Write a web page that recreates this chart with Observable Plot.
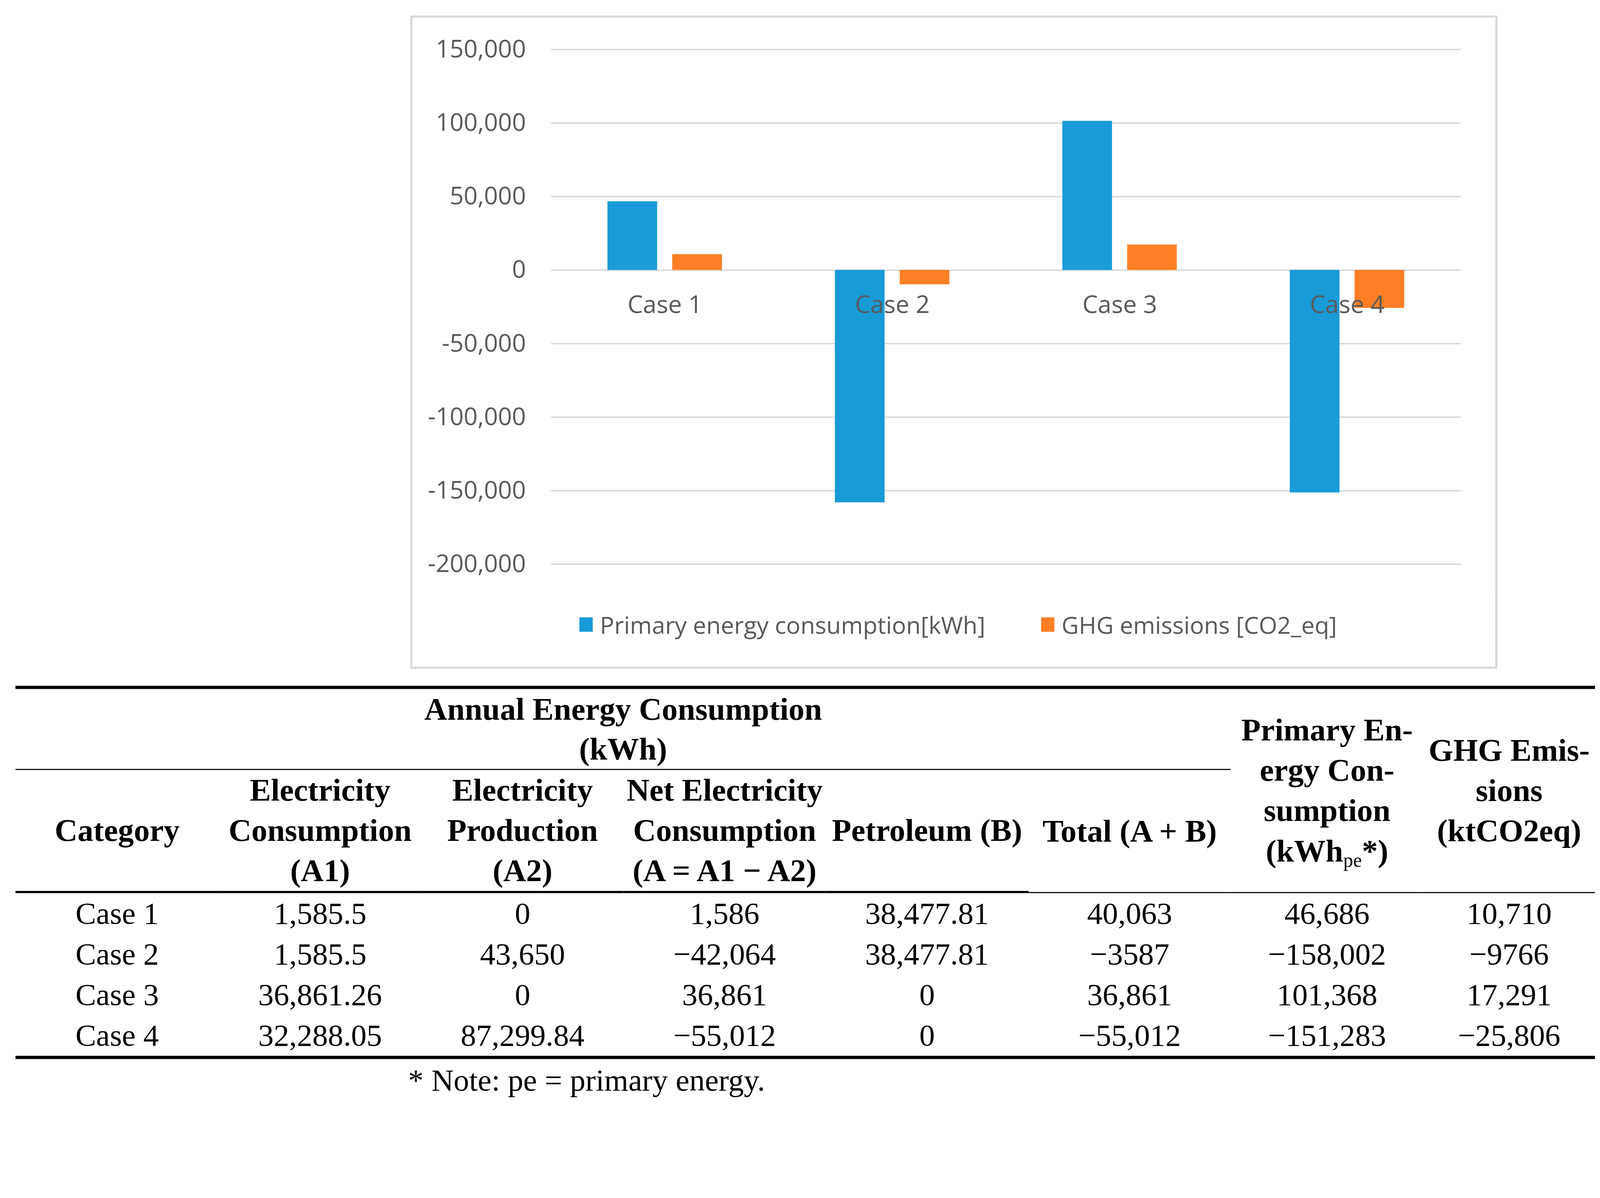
<!DOCTYPE html>
<html>
<head>
<meta charset="utf-8">
<script src="https://cdn.jsdelivr.net/npm/d3@7"></script>
<script src="https://cdn.jsdelivr.net/npm/@observablehq/plot@0.6"></script>
<style>
  html, body { margin: 0; padding: 0; background: #fff; overflow: hidden; }
  #page { width: 4446px; height: 3066px; position: relative; overflow: hidden; transform-origin: 0 0; background: #fff; }
  #chartBox { position: absolute; left: 1140px; top: 43px; width: 3021px; height: 1815px;
    box-sizing: border-box; border: 6px solid #d9d9d9; background: #fff; }
  #chartBox svg { display: block; }
  #legend { position: absolute; left: 24px; right: 0; top: 1646px; height: 80px;
    display: flex; align-items: center; justify-content: center;
    font-family: "Open Sans", sans-serif; font-size: 66px; color: #595959; white-space: nowrap; }
  .item { display: flex; align-items: center; }
  .item + .item { margin-left: 155px; }
  .sw { width: 37px; height: 40px; margin-right: 20px; }
  #tbl { position: absolute; left: 43px; top: 1905px; width: 4389px; border-collapse: separate;
    border-spacing: 0; table-layout: fixed; font-family: "Liberation Serif", "Times New Roman", serif;
    font-size: 86px; line-height: 113px; color: #000; border-top: 9px solid #000; border-bottom: 9px solid #000; }
  #tbl td, #tbl th { padding: 0; text-align: center; white-space: nowrap; vertical-align: middle; }
  #tbl th { font-weight: bold; font-size: 88px; line-height: 112px; }
  #tbl th sub { font-weight: normal; font-size: 55px; vertical-align: -14px; line-height: 0; }
  #note { position: absolute; left: 1134px; top: 2950px; font-family: "Liberation Serif", serif;
    font-size: 86px; line-height: 100px; color: #000; white-space: nowrap; }
</style>
</head>
<body>
<div id="page">
<div id="chartBox"><div id="legend"></div></div>
<table id="tbl"></table>
<div id="note">* Note: pe = primary energy.</div>
</div>
<script>
// ---- chart data ----
const cases = ["Case 1", "Case 2", "Case 3", "Case 4"];
const seriesNames = ["Primary energy consumption[kWh]", "GHG emissions [CO2_eq]"];
const primaryEnergy = [46686, -158002, 101368, -151283];
const ghgEmissions = [10710, -9766, 17291, -25806];
const yTicks = [150000, 100000, 50000, 0, -50000, -100000, -150000, -200000];
const seriesColors = ["#189BD7", "#FF7F27"];

// ---- table data ----
const elecConsumption = ["1,585.5", "1,585.5", "36,861.26", "32,288.05"];
const elecProduction = ["0", "43,650", "0", "87,299.84"];
const netElectricity = ["1,586", "\u221242,064", "36,861", "\u221255,012"];
const petroleum = ["38,477.81", "38,477.81", "0", "0"];
const totalAB = ["40,063", "\u22123587", "36,861", "\u221255,012"];
const primaryCol = ["46,686", "\u2212158,002", "101,368", "\u2212151,283"];
const ghgCol = ["10,710", "\u22129766", "17,291", "\u221225,806"];
const colWidths = [565, 563, 562, 561, 564, 562, 535, 477];

// fit the 4446x3066 page into the actual viewport
const page = document.getElementById("page");
const fit = Math.min(window.innerWidth / 4446, window.innerHeight / 3066);
if (fit > 0 && Math.abs(fit - 1) > 0.005) page.style.transform = `scale(${fit})`;

const data = cases.flatMap((c, i) => [
  {case: c, series: seriesNames[0], value: primaryEnergy[i]},
  {case: c, series: seriesNames[1], value: ghgEmissions[i]}
]);

const fmt = d => d.toLocaleString("en-US");

const chart = Plot.plot({
  width: 3009,
  height: 1600,
  marginLeft: 384,
  marginRight: 96,
  marginTop: 88,
  marginBottom: 82,
  style: {fontFamily: "'Open Sans', sans-serif", fontSize: "68px", color: "#595959", background: "#fff", overflow: "visible"},
  fx: {domain: cases, padding: 0, axis: null},
  x: {domain: seriesNames, paddingInner: 0.232, paddingOuter: 0.865, axis: null},
  y: {domain: [-200000, 150000], label: null},
  color: {domain: seriesNames, range: seriesColors},
  marks: [
    Plot.gridY(yTicks, {stroke: "#d9d9d9", strokeOpacity: 1, strokeWidth: 4}),
    Plot.barY(data, {fx: "case", x: "series", y: "value", fill: "series"}),
    Plot.text(cases, {fx: d => d, y: 0, text: d => d, dy: 97, fill: "#595959", fontSize: 68}),
    Plot.axisY(yTicks, {tickSize: 0, tickPadding: 70, tickFormat: fmt, label: null, fill: "#595959", fontSize: 68})
  ]
});
document.getElementById("chartBox").insertBefore(chart, document.getElementById("legend"));

// legend
const legend = document.getElementById("legend");
seriesNames.forEach((s, i) => {
  const it = document.createElement("div");
  it.className = "item";
  it.innerHTML = `<div class="sw" style="background:${seriesColors[i]}"></div><span>${s}</span>`;
  legend.appendChild(it);
});

// table
const tbl = document.getElementById("tbl");
let html = "<colgroup>" + colWidths.map(w => `<col style="width:${w}px">`).join("") + "</colgroup>";
html += `<tr><th colspan="6" style="border-bottom:3px solid #000;line-height:111px;">Annual Energy Consumption<br>(kWh)</th>`
  + `<th rowspan="2" style="border-bottom:3px solid #000;">Primary En-<br>ergy Con-<br>sumption<br>(kWh<sub>pe</sub>*)</th>`
  + `<th rowspan="2" style="border-bottom:3px solid #000;">GHG Emis-<br>sions<br>(ktCO2eq)</th></tr>`;
const heads = ["Category", "Electricity<br>Consumption<br>(A1)", "Electricity<br>Production<br>(A2)",
  "Net Electricity<br>Consumption<br>(A = A1 \u2212 A2)", "Petroleum (B)", "Total (A + B)"];
html += "<tr>" + heads.map((h, i) => `<th style="border-bottom:${i < 5 ? 6 : 3}px solid #000;">${h}</th>`).join("") + "</tr>";
cases.forEach((c, i) => {
  const cells = [c, elecConsumption[i], elecProduction[i], netElectricity[i], petroleum[i], totalAB[i], primaryCol[i], ghgCol[i]];
  html += "<tr>" + cells.map(v => `<td>${v}</td>`).join("") + "</tr>";
});
tbl.innerHTML = html;
</script>
</body>
</html>
